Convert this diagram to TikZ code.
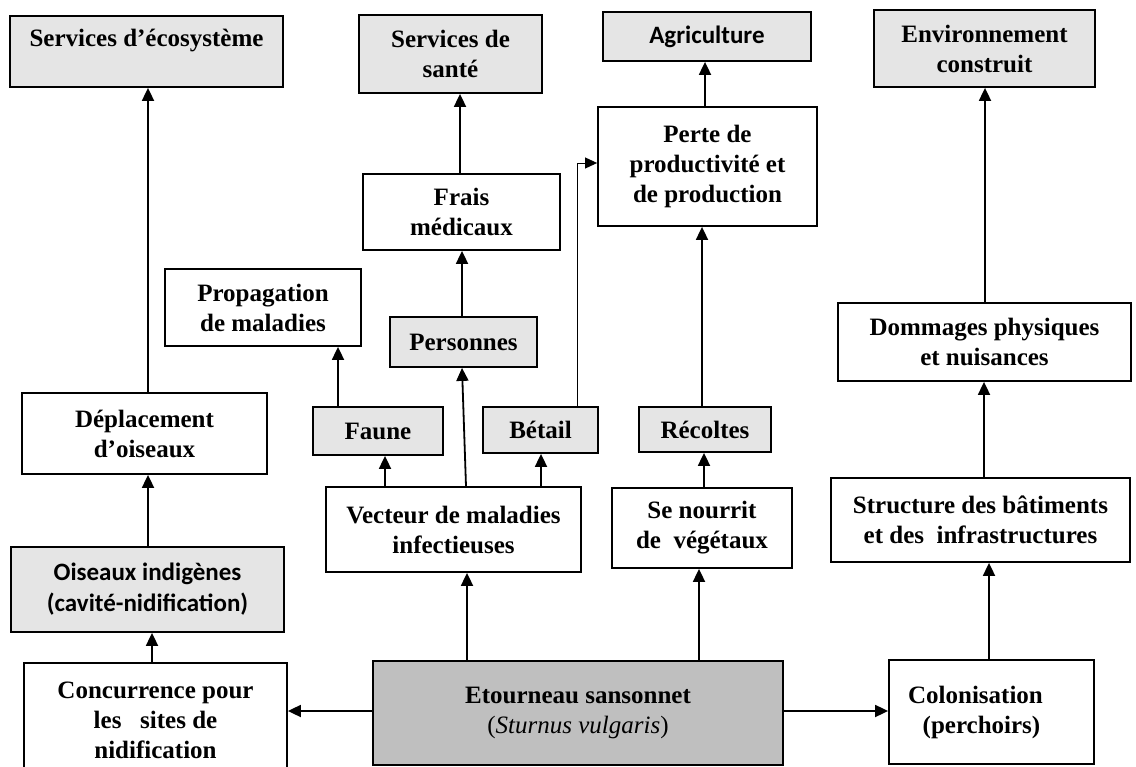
\documentclass[tikz,border=0pt]{standalone}
\usepackage{fontspec}
\setmainfont{Liberation Serif}
\newfontfamily\calib{Carlito}
\usetikzlibrary{arrows.meta,calc}
\begin{document}
\begin{tikzpicture}[x=1pt,y=-1pt,
  box/.style={draw=black, line width=1.8pt, fill=white, align=center, inner sep=0pt,
    font=\fontsize{25}{30}\selectfont\bfseries},
  gbox/.style={box, fill=black!10},
  dbox/.style={box, fill=black!25},
  cbox/.style={gbox, font=\fontsize{25}{31}\selectfont\calib\bfseries},
  arr/.style={line width=1.8pt, -{Triangle[width=12pt,length=13pt]}},
  thinarr/.style={line width=0.9pt, -{Triangle[width=11pt,length=12pt]}}]
\useasboundingbox (0,0) rectangle (1136,767);
\clip (0,0) rectangle (1136,767);
% top row
\node[gbox, minimum width=273pt, minimum height=71pt] (eco) at (146.5,51.5) {Services d’écosystème\\[-2pt]~};
\node[gbox, minimum width=183pt, minimum height=78pt] (sante) at (450.5,54) {Services de\\santé};
\node[cbox, minimum width=208pt, minimum height=49pt] (agri) at (707,36.5) {Agriculture};
\node[gbox, minimum width=221pt, minimum height=77pt] (env) at (984.5,48.5) {Environnement\\construit};
% second level
\node[box, minimum width=197pt, minimum height=76pt] (frais) at (461.5,212) {Frais\\médicaux};
\node[box, minimum width=219pt, minimum height=119pt] (perte) at (707.5,166.5) {Perte de\\productivité et\\de production};
\node[box, minimum width=196pt, minimum height=77pt] (prop) at (263,307.5) {Propagation\\de maladies};
\node[gbox, minimum width=147pt, minimum height=50pt] (pers) at (463.5,342) {Personnes};
\node[box, minimum width=293pt, minimum height=78pt] (dom) at (984.5,342) {Dommages physiques\\et nuisances};
% middle
\node[box, minimum width=245pt, minimum height=81pt] (depl) at (144.5,433.5) {Déplacement\\d’oiseaux};
\node[gbox, minimum width=130pt, minimum height=48pt] (faune) at (378,431) {Faune};
\node[gbox, minimum width=115pt, minimum height=46pt] (betail) at (540.5,430) {Bétail};
\node[gbox, minimum width=132pt, minimum height=45pt] (recoltes) at (705,429.5) {Récoltes};
\node[box, minimum width=255pt, minimum height=85pt] (vecteur) at (453.5,529.5) {Vecteur de maladies\\infectieuses};
\node[box, minimum width=180pt, minimum height=80pt] (nourrit) at (702,528) {Se nourrit\\de~~végétaux};
\node[box, minimum width=299pt, minimum height=84pt] (struct) at (980.5,520) {Structure des bâtiments\\et des~~infrastructures};
\node[cbox, minimum width=273pt, minimum height=85pt] (ois) at (147.5,589.5) {Oiseaux indigènes\\(cavité-nidification)};
% bottom
\node[box, minimum width=263pt, minimum height=114pt] (conc) at (155.5,720) {Concurrence pour\\les~~~sites de\\nidification};
\node[dbox, minimum width=410pt, minimum height=104pt] (etour) at (578,713) {Etourneau sansonnet\\{\mdseries(\textit{Sturnus vulgaris})}};
\node[box, minimum width=205pt, minimum height=104pt] (colon) at (991.5,712) {Colonisation\hspace*{32pt}\\(perchoirs)\hspace*{20pt}};
% connectors
\draw[arr] (148,0 |- depl.north) -- (148,0 |- eco.south);
\draw[arr] (460,0 |- frais.north) -- (460,0 |- sante.south);
\draw[arr] (462,0 |- pers.north) -- (462,0 |- frais.south);
\draw[arr] (466,0 |- vecteur.north) -- (462,0 |- pers.south);
\draw[arr] (385,0 |- vecteur.north) -- (385,0 |- faune.south);
\draw[arr] (541,0 |- vecteur.north) -- (541,0 |- betail.south);
\draw[arr] (338,0 |- faune.north) -- (338,0 |- prop.south);
\draw[thinarr] (577,0 |- betail.north) |- (perte.west |- 0,163);
\draw[arr] (705,0 |- perte.north) -- (705,0 |- agri.south);
\draw[arr] (702,0 |- recoltes.north) -- (702,0 |- perte.south);
\draw[arr] (704,0 |- nourrit.north) -- (704,0 |- recoltes.south);
\draw[arr] (467,0 |- etour.north) -- (467,0 |- vecteur.south);
\draw[arr] (699,0 |- etour.north) -- (699,0 |- nourrit.south);
\draw[arr] (etour.west |- 0,711) -- (conc.east |- 0,711);
\draw[arr] (etour.east |- 0,711) -- (colon.west |- 0,711);
\draw[arr] (989,0 |- colon.north) -- (989,0 |- struct.south);
\draw[arr] (984,0 |- struct.north) -- (984,0 |- dom.south);
\draw[arr] (985,0 |- dom.north) -- (985,0 |- env.south);
\draw[arr] (152,0 |- conc.north) -- (152,0 |- ois.south);
\draw[arr] (148,0 |- ois.north) -- (148,0 |- depl.south);
\end{tikzpicture}
\end{document}
